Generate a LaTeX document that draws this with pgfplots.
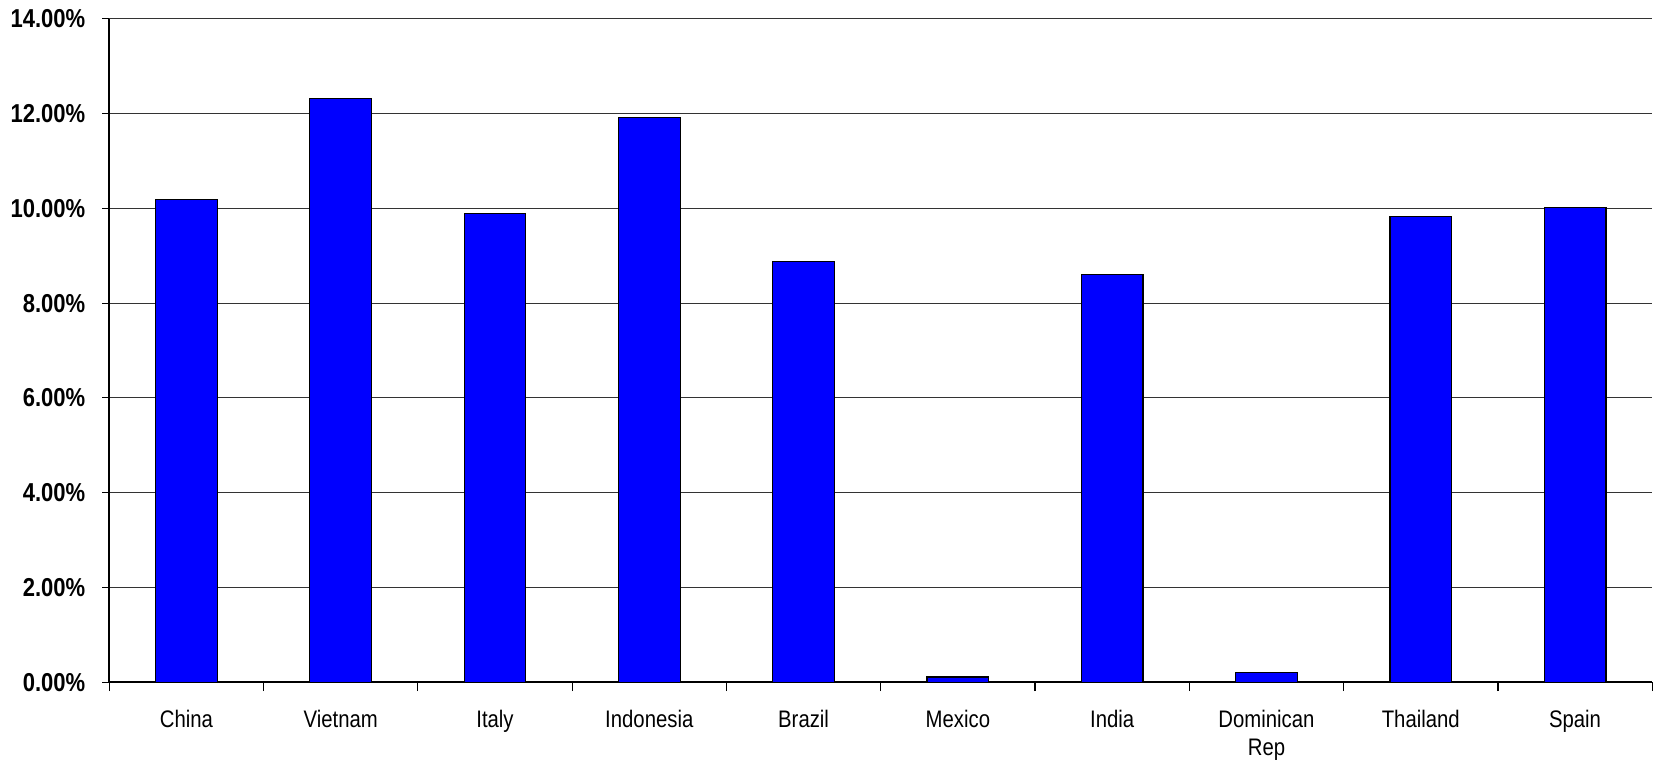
\documentclass[border=0pt]{standalone}
\usepackage{fontspec}
\setmainfont{Liberation Sans}[FakeStretch=0.85]
\usepackage{pgfplots}
\pgfplotsset{compat=1.18}
\begin{document}
\begin{tikzpicture}
\begin{axis}[
  scale only axis,
  width=774.5pt, height=333pt,
  xmin=-0.5, xmax=9.5,
  ymin=0, ymax=14,
  axis x line*=bottom,
  axis y line*=left,
  axis line style={black, line width=0.8pt},
  xtick={0,...,9},
  xticklabels={China,Vietnam,Italy,Indonesia,Brazil,Mexico,India,{Dominican\\Rep},Thailand,Spain},
  xticklabel style={align=center, font=\fontsize{12}{14}\selectfont, anchor=north, yshift=-7pt},
  major x tick style={draw=none},
  minor xtick={-0.5,0.5,...,9.5},
  minor x tick style={black, line width=0.6pt},
  minor tick length=4.5pt,
  tick align=outside,
  ytick={0,2,...,14},
  yticklabels={0.00\%,2.00\%,4.00\%,6.00\%,8.00\%,10.00\%,12.00\%,14.00\%},
  yticklabel style={font=\fontsize{13}{15}\selectfont\bfseries, xshift=-5pt},
  major y tick style={black, line width=0.6pt},
  major tick length=3.5pt,
  ymajorgrids,
  grid style={black!80, line width=0.5pt},
  clip=false,
]
\addplot[ybar, bar width=0.4, fill={rgb,255:red,0;green,0;blue,255}, draw=black, line width=0.6pt]
coordinates {
(0,10.19) (1,12.31) (2,9.89) (3,11.91) (4,8.87) (5,0.11) (6,8.60) (7,0.21) (8,9.83) (9,10.01)
};
\end{axis}
\path ([xshift=-2pt,yshift=1.5pt]current bounding box.north west);
\end{tikzpicture}
\end{document}
